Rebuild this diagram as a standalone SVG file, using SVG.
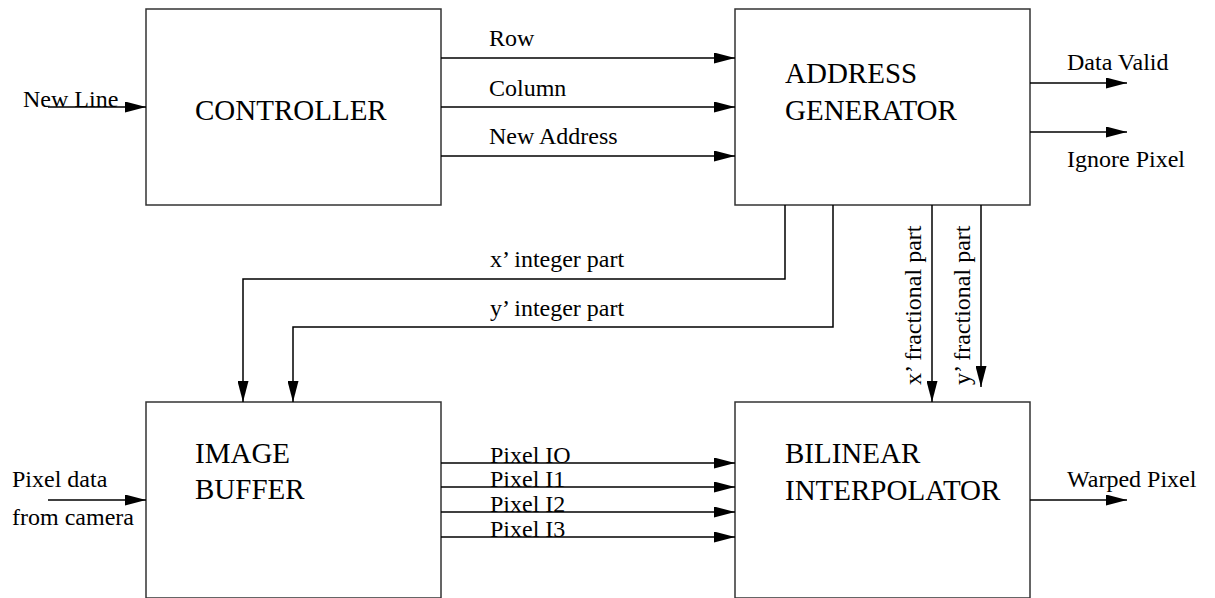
<svg xmlns="http://www.w3.org/2000/svg" width="1215" height="598" viewBox="0 0 1215 598">
  <style>
    .box { fill: #ffffff; stroke: #333333; stroke-width: 1.5; }
    .wire { fill: none; stroke: #000000; stroke-width: 1.5; marker-end: url(#head); }
    .title { font-family: "Liberation Serif", "Times New Roman", serif; font-size: 29px; fill: #000000; }
    .label { font-family: "Liberation Serif", "Times New Roman", serif; font-size: 24px; fill: #000000; }
  </style>
  <defs>
    <marker id="head" viewBox="0 0 21 11" refX="21" refY="5.5" markerWidth="21" markerHeight="11" markerUnits="userSpaceOnUse" orient="auto">
      <path d="M0,0 L21,5.5 L0,11 Z" fill="#000000"/>
    </marker>
  </defs>
  <rect width="1215" height="598" fill="#ffffff"/>

  <g id="controller">
    <rect class="box" x="146" y="9" width="295" height="196"/>
    <text class="title" x="195" y="120">CONTROLLER</text>
  </g>

  <g id="address-generator">
    <rect class="box" x="735" y="9" width="295" height="196"/>
    <text class="title" x="785" y="83">ADDRESS</text>
    <text class="title" x="785" y="120">GENERATOR</text>
  </g>

  <g id="image-buffer">
    <rect class="box" x="146" y="402" width="295" height="196"/>
    <text class="title" x="195" y="463">IMAGE</text>
    <text class="title" x="195" y="499">BUFFER</text>
  </g>

  <g id="bilinear-interpolator">
    <rect class="box" x="735" y="402" width="295" height="196"/>
    <text class="title" x="785" y="463">BILINEAR</text>
    <text class="title" x="785" y="500">INTERPOLATOR</text>
  </g>

  <g id="connectors">
    <!-- inputs -->
    <line class="wire" x1="48" y1="107" x2="146" y2="107"/>
    <line class="wire" x1="48" y1="500" x2="146" y2="500"/>
    <!-- controller to address generator -->
    <line class="wire" x1="441" y1="58" x2="735" y2="58"/>
    <line class="wire" x1="441" y1="107" x2="735" y2="107"/>
    <line class="wire" x1="441" y1="156" x2="735" y2="156"/>
    <!-- address generator outputs -->
    <line class="wire" x1="1030" y1="83" x2="1127" y2="83"/>
    <line class="wire" x1="1030" y1="132" x2="1127" y2="132"/>
    <!-- integer parts to image buffer -->
    <polyline class="wire" points="785,205 785,279 243,279 243,402"/>
    <polyline class="wire" points="833,205 833,327 293,327 293,402"/>
    <!-- fractional parts to interpolator -->
    <line class="wire" x1="932" y1="205" x2="932" y2="402"/>
    <line class="wire" x1="981" y1="205" x2="981" y2="387"/>
    <!-- pixels to interpolator -->
    <line class="wire" x1="441" y1="463" x2="735" y2="463"/>
    <line class="wire" x1="441" y1="487" x2="735" y2="487"/>
    <line class="wire" x1="441" y1="512" x2="735" y2="512"/>
    <line class="wire" x1="441" y1="537" x2="735" y2="537"/>
    <!-- interpolator output -->
    <line class="wire" x1="1030" y1="500" x2="1127" y2="500"/>

    <text class="label" x="23" y="107">New Line</text>
    <text class="label" x="12" y="487">Pixel data</text>
    <text class="label" x="12" y="525">from camera</text>
    <text class="label" x="489" y="46">Row</text>
    <text class="label" x="489" y="96">Column</text>
    <text class="label" x="489" y="144">New Address</text>
    <text class="label" x="1067" y="70">Data Valid</text>
    <text class="label" x="1067" y="167">Ignore Pixel</text>
    <text class="label" x="490" y="267">x’ integer part</text>
    <text class="label" x="490" y="316">y’ integer part</text>
    <text class="label" transform="translate(921,385) rotate(-90)">x’ fractional part</text>
    <text class="label" transform="translate(970,385) rotate(-90)">y’ fractional part</text>
    <text class="label" x="490" y="463">Pixel IO</text>
    <text class="label" x="490" y="487">Pixel I1</text>
    <text class="label" x="490" y="512">Pixel I2</text>
    <text class="label" x="490" y="537">Pixel I3</text>
    <text class="label" x="1067" y="487">Warped Pixel</text>
  </g>
</svg>
